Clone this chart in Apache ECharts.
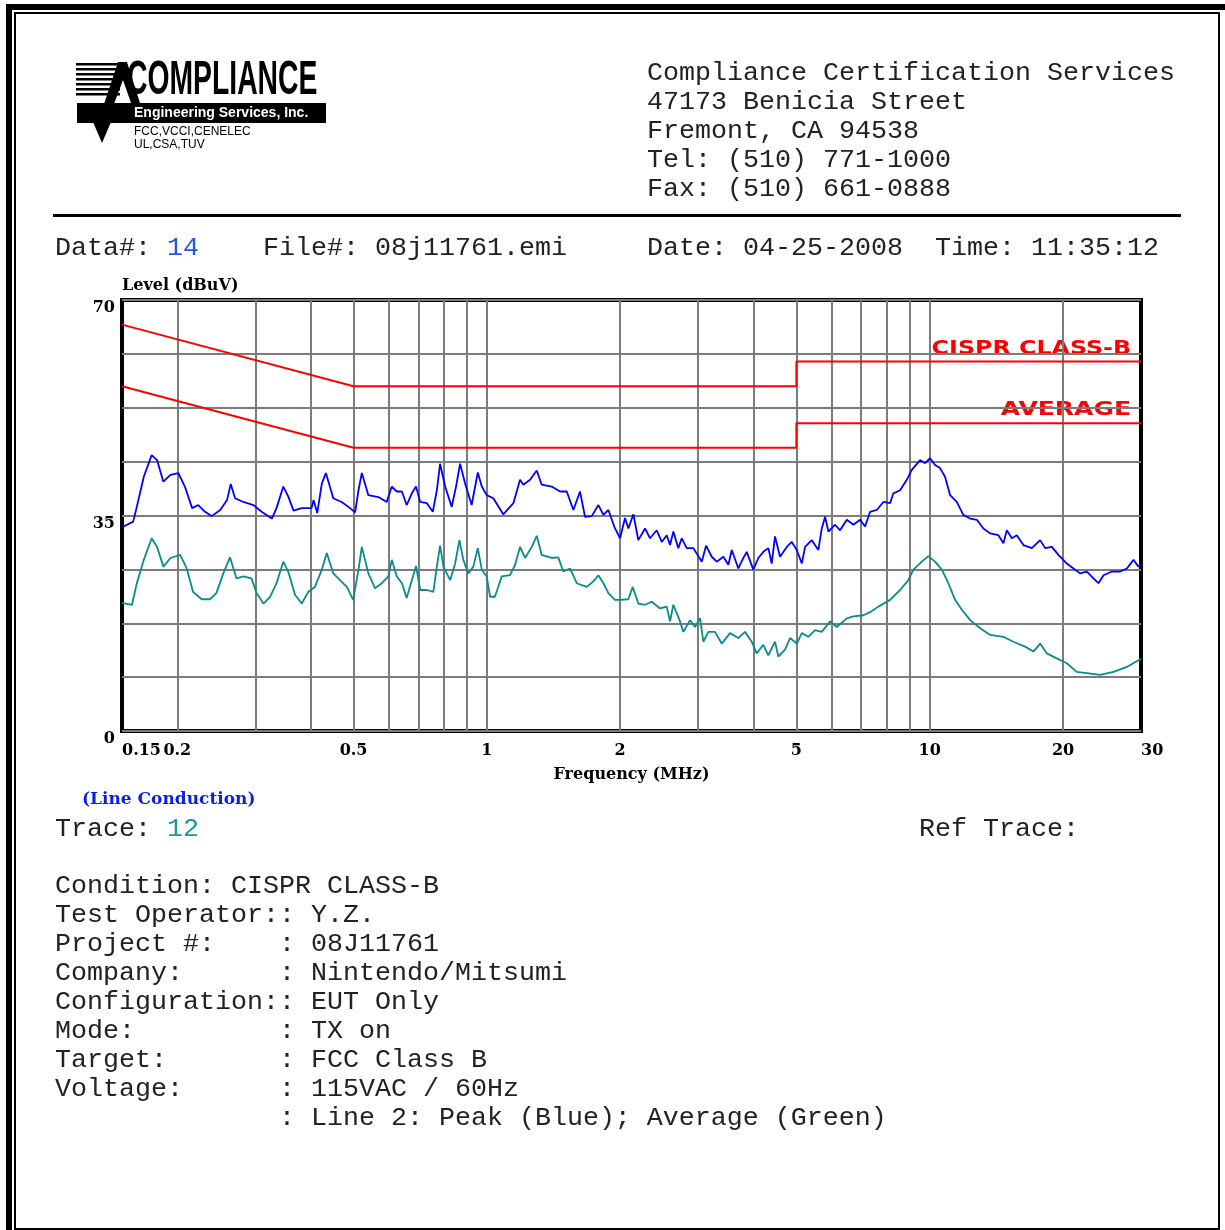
<!DOCTYPE html>
<html lang="en">
<head>
<meta charset="UTF-8">
<title>Line Conduction - CISPR Class B</title>
<script src="https://cdn.jsdelivr.net/npm/echarts@6.0.0/dist/echarts.min.js"></script>
<style>
    html, body { margin: 0; padding: 0; background: #fff; }
    #main { width: 1225px; height: 1230px; }
</style>
</head>
<body>
<div id="main"></div>
<script>
    // peak trace (blue), MHz / dBuV
    let peakFreq = [0.150, 0.151, 0.159, 0.162, 0.168, 0.175, 0.180, 0.186, 0.193, 0.201, 0.208, 0.216, 0.223, 0.231, 0.239,
        0.250, 0.259, 0.264, 0.270, 0.282, 0.297, 0.310, 0.327, 0.335, 0.347, 0.356, 0.366, 0.382, 0.402, 0.406, 0.414,
        0.424, 0.433, 0.450, 0.470, 0.487, 0.504, 0.513, 0.522, 0.540, 0.569, 0.594, 0.610, 0.626, 0.643, 0.659, 0.677,
        0.692, 0.707, 0.732, 0.755, 0.771, 0.784, 0.805, 0.833, 0.852, 0.870, 0.893, 0.924, 0.954, 0.974, 0.999, 1.034,
        1.089, 1.148, 1.188, 1.209, 1.252, 1.296, 1.330, 1.401, 1.463, 1.515, 1.568, 1.623, 1.666, 1.725, 1.786, 1.833,
        1.881, 1.947, 1.999, 2.051, 2.087, 2.142, 2.198, 2.276, 2.336, 2.419, 2.483, 2.548, 2.592, 2.637, 2.706, 2.755,
        2.827, 2.926, 3.057, 3.126, 3.220, 3.304, 3.420, 3.510, 3.573, 3.697, 3.795, 3.862, 3.997, 4.102, 4.210, 4.321,
        4.398, 4.474, 4.592, 4.756, 4.881, 5.010, 5.142, 5.231, 5.416, 5.605, 5.705, 5.804, 5.905, 6.114, 6.275, 6.498,
        6.724, 6.963, 7.146, 7.335, 7.595, 7.860, 8.138, 8.279, 8.573, 8.877, 9.111, 9.513, 9.763, 10.02, 10.28, 10.55,
        10.83, 11.12, 11.51, 11.91, 12.34, 12.78, 13.22, 13.69, 14.29, 14.67, 14.93, 15.33, 15.73, 16.28, 17.01, 17.76,
        18.23, 18.87, 19.53, 20.40, 21.12, 21.86, 22.64, 23.43, 24.05, 24.69, 25.79, 26.93, 27.87, 28.85, 29.60, 30.00];
    let peakLevel = [33.1, 33.2, 34.0, 36.4, 41.3, 44.8, 44.0, 40.5, 41.6, 41.9, 39.7, 36.2, 36.7, 35.6, 34.9,
        35.9, 37.5, 40.1, 37.8, 37.2, 36.7, 35.6, 34.5, 36.2, 39.7, 38.1, 35.8, 36.2, 36.2, 37.5, 35.4,
        40.2, 41.9, 37.8, 37.2, 36.4, 35.5, 39.1, 41.9, 38.3, 38.0, 37.2, 39.7, 38.9, 38.9, 36.7, 38.6,
        39.7, 37.2, 37.0, 35.6, 39.1, 43.4, 39.7, 36.4, 39.7, 43.4, 40.2, 36.7, 42.0, 39.7, 38.3, 37.8,
        35.2, 37.0, 40.8, 40.0, 40.8, 42.3, 40.0, 39.7, 38.9, 38.9, 35.9, 38.9, 34.8, 34.9, 36.7, 35.1,
        35.9, 32.9, 31.3, 34.6, 32.9, 35.2, 31.0, 32.9, 31.3, 32.6, 30.7, 31.8, 30.2, 32.4, 29.7, 31.3,
        29.7, 29.7, 27.5, 30.1, 28.3, 27.5, 28.3, 27.0, 29.4, 26.4, 28.1, 29.1, 26.2, 28.1, 29.1, 29.7,
        27.2, 31.6, 28.3, 29.9, 30.7, 29.4, 27.2, 29.9, 31.0, 29.4, 32.9, 34.8, 32.4, 33.5, 32.6, 34.3,
        33.5, 34.3, 33.2, 35.6, 35.9, 37.2, 37.0, 38.6, 39.1, 40.8, 42.4, 44.0, 43.5, 44.3, 43.2, 42.7,
        41.3, 38.3, 37.2, 35.1, 34.5, 34.3, 32.9, 32.1, 31.8, 30.5, 32.6, 31.3, 31.8, 30.2, 29.7, 31.0,
        29.7, 29.9, 28.6, 27.2, 26.4, 25.6, 25.9, 24.8, 24.0, 25.3, 25.9, 25.9, 26.4, 27.8, 26.7, 27.0];

    // average trace (green)
    let avgFreq = [0.150, 0.151, 0.158, 0.162, 0.168, 0.175, 0.180, 0.186, 0.193, 0.203, 0.210, 0.217, 0.227, 0.237, 0.245,
        0.254, 0.263, 0.272, 0.282, 0.294, 0.302, 0.313, 0.324, 0.335, 0.347, 0.356, 0.369, 0.382, 0.395, 0.409, 0.424,
        0.435, 0.450, 0.466, 0.483, 0.499, 0.513, 0.522, 0.540, 0.559, 0.579, 0.599, 0.610, 0.626, 0.643, 0.659, 0.677,
        0.692, 0.707, 0.732, 0.757, 0.771, 0.784, 0.798, 0.826, 0.848, 0.867, 0.885, 0.908, 0.932, 0.954, 0.974, 0.999,
        1.017, 1.043, 1.080, 1.128, 1.158, 1.188, 1.220, 1.263, 1.296, 1.330, 1.401, 1.450, 1.488, 1.541, 1.596, 1.681,
        1.740, 1.786, 1.833, 1.881, 1.947, 1.999, 2.087, 2.135, 2.198, 2.276, 2.357, 2.461, 2.548, 2.592, 2.637, 2.730,
        2.778, 2.876, 2.952, 3.030, 3.082, 3.163, 3.275, 3.391, 3.541, 3.697, 3.828, 3.964, 4.068, 4.210, 4.321, 4.474,
        4.552, 4.714, 4.838, 5.010, 5.142, 5.321, 5.510, 5.705, 5.957, 6.167, 6.498, 6.724, 7.083, 7.335, 7.658, 8.138,
        8.573, 8.951, 9.187, 9.597, 9.932, 10.28, 10.65, 11.02, 11.41, 11.82, 12.34, 13.00, 13.69, 14.67, 15.45, 16.42,
        17.15, 17.76, 18.39, 19.36, 20.40, 21.48, 22.64, 24.26, 26.00, 27.87, 29.60, 30.00];
    let avgLevel = [20.8, 20.7, 20.5, 24.0, 27.8, 31.3, 29.9, 26.7, 28.1, 28.6, 26.4, 22.6, 21.4, 21.4, 22.4,
        25.6, 28.2, 24.8, 25.1, 24.8, 22.4, 20.7, 21.8, 24.0, 27.5, 25.9, 22.1, 20.7, 22.6, 23.4, 26.2,
        28.9, 25.6, 24.5, 23.4, 21.3, 26.2, 29.9, 25.6, 23.2, 24.0, 25.1, 27.8, 25.1, 24.0, 21.6, 24.5,
        26.8, 22.9, 22.9, 22.6, 26.7, 30.1, 26.7, 24.5, 27.2, 31.0, 27.8, 25.6, 26.7, 29.7, 26.2, 25.1,
        21.8, 21.8, 25.1, 25.3, 27.0, 29.9, 28.1, 29.9, 31.7, 28.6, 28.1, 28.2, 25.9, 26.4, 24.0, 23.4,
        24.3, 25.3, 24.0, 22.4, 21.3, 21.3, 21.4, 23.4, 20.7, 20.5, 21.0, 19.9, 20.2, 17.8, 20.5, 17.8,
        16.1, 18.0, 16.9, 18.3, 14.5, 16.1, 16.1, 14.2, 15.9, 15.1, 16.1, 14.5, 12.6, 14.0, 12.3, 14.5,
        12.1, 13.2, 15.1, 14.2, 15.9, 15.3, 16.4, 16.1, 17.8, 16.9, 18.3, 18.6, 18.8, 19.3, 20.2, 21.3,
        22.9, 24.5, 26.2, 27.5, 28.4, 27.5, 26.2, 24.0, 21.3, 19.7, 18.0, 16.7, 15.6, 15.3, 14.5, 13.7,
        12.9, 14.2, 12.6, 11.8, 11.0, 9.6, 9.4, 9.1, 9.6, 10.4, 11.5, 11.7];

    // CISPR 22 class B limits
    let qpLimitFreq = [0.15, 0.5, 5, 5, 30];
    let qpLimitLevel = [66, 56, 56, 60, 60];
    let avLimitFreq = [0.15, 0.5, 5, 5, 30];
    let avLimitLevel = [56, 46, 46, 50, 50];

    // axes
    let gridFreqs = [0.2, 0.3, 0.4, 0.5, 0.6, 0.7, 0.8, 0.9, 1, 2, 3, 4, 5, 6, 7, 8, 9, 10, 20];
    let xLabelValues = [0.15, 0.2, 0.5, 1, 2, 5, 10, 20, 30];
    let yLabelValues = [0, 35, 70];

    // report text
    let headerLines = ['Compliance Certification Services', '47173 Benicia Street', 'Fremont, CA 94538',
        'Tel: (510) 771-1000', 'Fax: (510) 661-0888'];
    let infoLines = ['Condition: CISPR CLASS-B', 'Test Operator:: Y.Z.', 'Project #:    : 08J11761',
        'Company:      : Nintendo/Mitsumi', 'Configuration:: EUT Only', 'Mode:         : TX on',
        'Target:       : FCC Class B', 'Voltage:      : 115VAC / 60Hz',
        '              : Line 2: Peak (Blue); Average (Green)'];

    const MONO = '26.67px "Liberation Mono", "DejaVu Sans Mono", monospace';
    const SERIF = '"DejaVu Serif", "Liberation Serif", serif';
    const INK = '#222';

    // monospaced report text sits on a 16px character grid starting at x=55
    function mono(col, y, text, color) {
        return {
            type: 'text', x: 55 + col * 16, y: y, silent: true,
            style: {text: text, font: MONO, fill: color || INK, textVerticalAlign: 'middle', verticalAlign: 'middle'}
        };
    }

    let elements = [];
    // page frame
    elements.push({type: 'rect', shape: {x: 6, y: 4, width: 1219, height: 6}, style: {fill: '#000'}, silent: true});
    elements.push({type: 'rect', shape: {x: 6, y: 4, width: 6, height: 1226}, style: {fill: '#000'}, silent: true});
    elements.push({type: 'rect', shape: {x: 15, y: 13, width: 1204, height: 1216}, style: {fill: 'none', stroke: '#000', lineWidth: 2}, silent: true});

    // logo
    for (let i = 0; i < 7; i++) {
        elements.push({type: 'rect', shape: {x: 76, y: 63 + i * 5, width: 44, height: 2.5}, style: {fill: '#000'}, silent: true});
    }
    elements.push({type: 'polygon', shape: {points: [[118, 62], [127, 62], [140, 103], [131, 103], [123, 80], [106, 125], [97, 125]]}, style: {fill: '#000'}, silent: true});
    elements.push({type: 'polygon', shape: {points: [[93, 122], [111, 122], [102, 143]]}, style: {fill: '#000'}, silent: true});
    elements.push({type: 'text', x: 127, y: 81, scaleX: 0.59, silent: true,
        style: {text: 'COMPLIANCE', font: 'bold 48px "Liberation Sans", Arial, sans-serif', fill: '#000', textVerticalAlign: 'middle', verticalAlign: 'middle'}});
    elements.push({type: 'rect', shape: {x: 77, y: 103, width: 249, height: 20}, style: {fill: '#000'}, silent: true});
    elements.push({type: 'text', x: 134, y: 113, silent: true,
        style: {text: 'Engineering Services, Inc.', font: 'bold 14px "Liberation Sans", Arial, sans-serif', fill: '#fff', textVerticalAlign: 'middle', verticalAlign: 'middle'}});
    elements.push({type: 'text', x: 134, y: 132, silent: true,
        style: {text: 'FCC,VCCI,CENELEC', font: '12px "Liberation Sans", Arial, sans-serif', fill: '#000', textVerticalAlign: 'middle', verticalAlign: 'middle'}});
    elements.push({type: 'text', x: 134, y: 145, silent: true,
        style: {text: 'UL,CSA,TUV', font: '12px "Liberation Sans", Arial, sans-serif', fill: '#000', textVerticalAlign: 'middle', verticalAlign: 'middle'}});

    // address block + rule
    headerLines.forEach(function (t, i) {
        elements.push(mono(37, 73 + i * 29, t));
    });
    elements.push({type: 'rect', shape: {x: 53, y: 214, width: 1128, height: 3}, style: {fill: '#000'}, silent: true});

    // data line
    elements.push(mono(0, 248, 'Data#:'));
    elements.push(mono(7, 248, '14', '#2456e0'));
    elements.push(mono(13, 248, 'File#: 08j11761.emi'));
    elements.push(mono(37, 248, 'Date: 04-25-2008'));
    elements.push(mono(55, 248, 'Time: 11:35:12'));

    // under the chart
    elements.push({type: 'text', x: 82, y: 800, silent: true,
        style: {text: '(Line Conduction)', font: 'bold 17px ' + SERIF, fill: '#0a1ee8', textVerticalAlign: 'middle', verticalAlign: 'middle'}});
    elements.push(mono(0, 829, 'Trace:'));
    elements.push(mono(7, 829, '12', '#1a9a9a'));
    elements.push(mono(54, 829, 'Ref Trace:'));
    infoLines.forEach(function (t, i) {
        elements.push(mono(0, 886 + i * 29, t));
    });

    // limit names
    elements.push({type: 'text', x: 1131, y: 349, scaleX: 1.25, silent: true,
        style: {text: 'CISPR CLASS-B', font: 'bold 19px "DejaVu Sans", sans-serif', fill: '#ff0000', textAlign: 'right', align: 'right', textVerticalAlign: 'middle', verticalAlign: 'middle'}});
    elements.push({type: 'text', x: 1131, y: 410, scaleX: 1.25, silent: true,
        style: {text: 'AVERAGE', font: 'bold 20px "DejaVu Sans", sans-serif', fill: '#ff0000', textAlign: 'right', align: 'right', textVerticalAlign: 'middle', verticalAlign: 'middle'}});

    function pairs(xs, ys) {
        return xs.map(function (x, i) { return [x, ys[i]]; });
    }

    let axisFont = {fontFamily: SERIF, fontWeight: 'bold', fontSize: 16, color: '#000'};

    let myChart = echarts.init(document.getElementById('main'), null, {renderer: 'canvas'});
    let option = {
        animation: false,
        backgroundColor: '#fff',
        grid: {left: 122, top: 300, width: 1019, height: 431, show: true, borderColor: '#000', borderWidth: 4, backgroundColor: 'transparent'},
        xAxis: {
            type: 'log', logBase: 10, min: 0.15, max: 30,
            name: 'Frequency (MHz)', nameLocation: 'middle', nameGap: 36,
            nameTextStyle: axisFont,
            axisLine: {show: false}, axisTick: {show: false},
            splitLine: {show: false}, minorSplitLine: {show: false},
            axisLabel: Object.assign({
                customValues: xLabelValues, margin: 12,
                alignMinLabel: 'left', alignMaxLabel: 'left',
                showMinLabel: true, showMaxLabel: true,
                formatter: function (v) { return String(+(+v).toPrecision(3)); }
            }, axisFont)
        },
        yAxis: {
            type: 'value', min: 0, max: 70, interval: 8.75,
            name: 'Level (dBuV)', nameLocation: 'end', nameGap: 6,
            nameTextStyle: Object.assign({align: 'left', verticalAlign: 'bottom'}, axisFont),
            axisLine: {show: false}, axisTick: {show: false},
            axisLabel: Object.assign({
                margin: 7, verticalAlign: 'top', showMinLabel: true, showMaxLabel: true,
                formatter: function (v) {
                    return yLabelValues.some(function (t) { return Math.abs(t - v) < 0.01; }) ? String(Math.round(v)) : '';
                }
            }, axisFont),
            splitLine: {lineStyle: {color: '#7c7c7c', width: 2}}
        },
        series: [
            {
                name: 'grid', type: 'line', data: [], silent: true, z: 1,
                markLine: {
                    silent: true, z: 1, animation: false, symbol: ['none', 'none'],
                    label: {show: false}, emphasis: {disabled: true},
                    lineStyle: {color: '#7c7c7c', width: 2, type: 'solid'},
                    data: gridFreqs.map(function (f) { return {xAxis: f}; })
                }
            },
            {
                name: 'Average', type: 'line', data: pairs(avgFreq, avgLevel), z: 2,
                showSymbol: false, silent: true, color: '#0b8b8b',
                lineStyle: {color: '#0b8b8b', width: 1.8}
            },
            {
                name: 'Peak', type: 'line', data: pairs(peakFreq, peakLevel), z: 2,
                showSymbol: false, silent: true, color: '#0000ff',
                lineStyle: {color: '#0000ff', width: 1.8}
            },
            {
                name: 'CISPR CLASS-B', type: 'line', data: pairs(qpLimitFreq, qpLimitLevel), z: 3,
                showSymbol: false, silent: true, color: '#ff0000',
                lineStyle: {color: '#ff0000', width: 2}
            },
            {
                name: 'AVERAGE', type: 'line', data: pairs(avLimitFreq, avLimitLevel), z: 3,
                showSymbol: false, silent: true, color: '#ff0000',
                lineStyle: {color: '#ff0000', width: 2}
            }
        ],
        graphic: {elements: elements}
    };
    myChart.setOption(option);
</script>
</body>
</html>
